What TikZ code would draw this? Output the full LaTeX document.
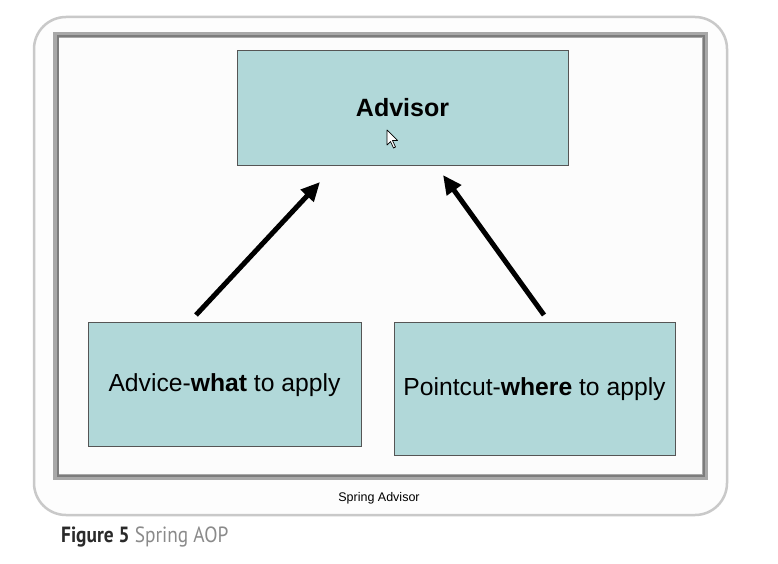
\documentclass[tikz,border=0pt]{standalone}
\usepackage{fontspec}
\setmainfont{Liberation Sans}
\newfontfamily\capfont{PT Sans}
\usetikzlibrary{arrows.meta}
\definecolor{boxfill}{HTML}{B1D8D9}
\definecolor{boxline}{HTML}{555555}
\definecolor{framelight}{HTML}{A8A8A8}
\definecolor{framedark}{HTML}{7C7C7C}
\definecolor{outerline}{HTML}{C9C9C9}
\definecolor{capgray}{HTML}{8A8A8A}
\definecolor{capdark}{HTML}{2A2A2A}
\definecolor{panelbg}{HTML}{FDFDFD}
\definecolor{slidebg}{HTML}{FCFCFC}
\tikzset{
  x=1pt, y=-1pt,
  cbox/.style={draw=boxline, line width=1pt, fill=boxfill, inner sep=0pt},
  boxtext/.style={font=\fontsize{24.7}{28}\selectfont, text=black},
  fatarrow/.style={line width=5pt, -{Triangle[length=19pt,width=17pt]}},
}
\begin{document}
\begin{tikzpicture}
\useasboundingbox (0,0) rectangle (778,564);
\fill[white] (0,0) rectangle (778,564);
% outer rounded panel
\draw[outerline, line width=2.5pt, fill=panelbg, rounded corners=32pt] (34,17) rectangle (727,515);
% slide frame
\fill[slidebg] (56,35) rectangle (705,477);
\draw[framelight, line width=6pt] (56,35) rectangle (705,477);
\draw[framedark, line width=2pt] (57.5,36.5) rectangle (703.5,475.5);
% boxes
\node[cbox, minimum width=331pt, minimum height=115pt, anchor=north west] (advisor) at (237,50) {};
\node[boxtext, font=\fontsize{25}{28}\selectfont\bfseries] (advisortext) at (402.5,108) {Advisor};
\node[cbox, minimum width=273pt, minimum height=124pt, anchor=north west] (advice) at (88,322) {};
\node[boxtext] (advicetext) at (224.5,385) {Advice-\textbf{what} to apply};
\node[cbox, minimum width=281pt, minimum height=133pt, anchor=north west] (pointcut) at (394,322) {};
\node[boxtext] (pointcuttext) at (534.5,389) {Pointcut-\textbf{where} to apply};
% cursor
\draw[black, fill=white, line width=0.7pt, line join=round]
  (387,130) -- (387,145) -- (390.5,141.5) -- (393.5,148) -- (395.5,147) -- (392.5,140.5) -- (397.5,140.5) -- cycle;
% arrows
\coordinate (a1s) at (196,315);
\coordinate (a1e) at (320,182);
\coordinate (a2s) at (544,315);
\coordinate (a2e) at (443,175);
\draw[fatarrow] (a1s) -- (a1e);
\draw[fatarrow] (a2s) -- (a2e);
% captions
\node[font=\fontsize{12.5}{14}\selectfont, text=black] (slidecap) at (379,498) {Spring Advisor};
\node[anchor=west, inner sep=0pt, xscale=0.88, font=\capfont\fontsize{22}{24}\selectfont] (figcap) at (61,537)
  {\textcolor{capdark}{\bfseries Figure 5}\hspace{6pt}\textcolor{capgray}{Spring AOP}};
\end{tikzpicture}
\end{document}
